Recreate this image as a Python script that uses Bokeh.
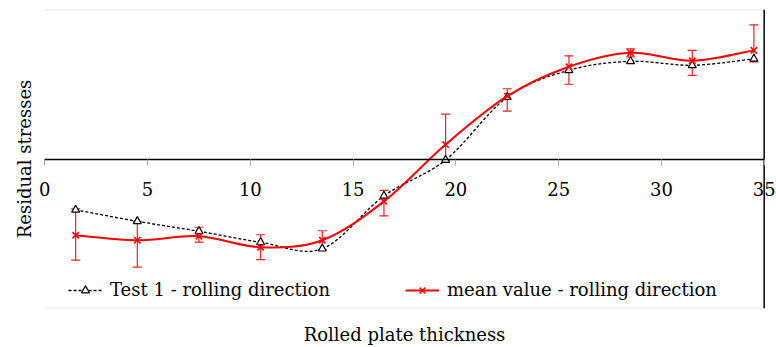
from bokeh.plotting import figure
from bokeh.models import (Range1d, LinearAxis, FixedTicker, Whisker, TeeHead,
                          ColumnDataSource, Legend, LegendItem)
from bokeh.embed import file_html
from bokeh.resources import INLINE

# ---- data ----
thickness = [1.5, 4.5, 7.5, 10.5, 13.5, 16.5, 19.5, 22.5, 25.5, 28.5, 31.5, 34.5]
test1 = [-102, -125, -145, -167, -180, -74, -2, 124, 178, 196, 188, 201]
mean_val = [-153, -163, -155, -177, -163, -85, 29, 126, 185, 213, 197, 218]
err_upper = [-100, -125, -137, -152, -144, -63, 90, 141, 207, 221, 218, 269]
err_lower = [-203, -217, -167, -202, -182, -114, -2, 96, 150, 205, 168, 195]
x_ticks = [0, 5, 10, 15, 20, 25, 30, 35]
x_limits = [0, 35]
y_limits = [-300, 300]
series_names = ["Test 1 - rolling direction", "mean value - rolling direction"]
x_title = "Rolled plate thickness"
y_title = "Residual stresses"

FONT = "DejaVu Serif"
PAD = 0.6  # extra room on each side so the end tick labels are not clipped


def smooth_segments(xs, ys, t=1.0 / 6.0):
    """Cubic Bezier segments (Catmull-Rom style) through the data points."""
    n = len(xs)
    seg = dict(x0=[], y0=[], x1=[], y1=[], cx0=[], cy0=[], cx1=[], cy1=[])
    for i in range(n - 1):
        xp, yp = (xs[i - 1], ys[i - 1]) if i > 0 else (xs[i], ys[i])
        xn, yn = (xs[i + 2], ys[i + 2]) if i + 2 < n else (xs[i + 1], ys[i + 1])
        seg["x0"].append(xs[i]); seg["y0"].append(ys[i])
        seg["x1"].append(xs[i + 1]); seg["y1"].append(ys[i + 1])
        seg["cx0"].append(xs[i] + (xs[i + 1] - xp) * t)
        seg["cy0"].append(ys[i] + (ys[i + 1] - yp) * t)
        seg["cx1"].append(xs[i + 1] - (xn - xs[i]) * t)
        seg["cy1"].append(ys[i + 1] - (yn - ys[i]) * t)
    return ColumnDataSource(seg)


p = figure(width=776, height=347, output_backend="svg", toolbar_location=None,
           x_range=Range1d(x_limits[0] - PAD, x_limits[1] + PAD),
           y_range=Range1d(*y_limits),
           min_border_left=32, min_border_right=0, min_border_top=9,
           min_border_bottom=38)
p.background_fill_color = "white"
p.border_fill_color = "white"
p.outline_line_color = None

# label-only default axes
for ax in (p.xaxis[0], p.yaxis[0]):
    ax.ticker = FixedTicker(ticks=[])
    ax.axis_line_color = None
    ax.major_tick_out = 0
    ax.major_tick_in = 0
    ax.minor_tick_out = 0
    ax.minor_tick_in = 0
    ax.major_label_text_font_size = "0px"
    ax.axis_label_text_font = FONT
    ax.axis_label_text_font_size = "18px"
    ax.axis_label_text_font_style = "normal"
    ax.axis_label_text_color = "black"
p.xaxis[0].axis_label = x_title
p.xaxis[0].axis_label_standoff = 15
p.yaxis[0].axis_label = y_title
p.yaxis[0].axis_label_standoff = -2

p.xgrid.visible = False
p.ygrid.visible = False

# light border lines at top and bottom of the plot area
p.segment(x0=x_limits[0], x1=x_limits[1], y0=y_limits, y1=y_limits,
          line_color="#e2e2e2", line_width=1.5)

# vertical axis line at the right edge
p.segment(x0=x_limits[1], x1=x_limits[1], y0=y_limits[0], y1=y_limits[1],
          line_color="black", line_width=1.5)

# horizontal axis crossing at zero
xa = LinearAxis(fixed_location=0, ticker=FixedTicker(ticks=x_ticks),
                bounds=tuple(x_limits))
xa.axis_line_color = "black"
xa.axis_line_width = 1.5
xa.major_tick_out = 6
xa.major_tick_in = 0
xa.major_tick_line_color = "#a6a6a6"
xa.minor_tick_out = 0
xa.minor_tick_in = 0
xa.major_label_standoff = 17
xa.major_label_text_font = FONT
xa.major_label_text_font_size = "18px"
xa.major_label_text_color = "black"
p.add_layout(xa, "below")

# error bars
err_src = ColumnDataSource(dict(x=thickness, hi=err_upper, lo=err_lower))
wh = Whisker(base="x", upper="hi", lower="lo", source=err_src,
             line_color="#ff2020", line_width=1.2,
             upper_head=TeeHead(size=9, line_color="#ff2020", line_width=1.2),
             lower_head=TeeHead(size=9, line_color="#ff2020", line_width=1.2))
p.add_layout(wh)

# Test 1 smoothed dashed line + triangles
p.bezier(x0="x0", y0="y0", x1="x1", y1="y1", cx0="cx0", cy0="cy0",
         cx1="cx1", cy1="cy1", source=smooth_segments(thickness, test1),
         line_color="black", line_width=1.3, line_dash="3 2")
l1 = p.line(x=thickness[:1], y=test1[:1], line_color="black",
            line_width=1.3, line_dash="3 2")
s1 = p.scatter(x=thickness, y=test1, marker="triangle", size=8,
               line_color="black", line_width=1.2, fill_color="white")

# mean value smoothed red line + x markers
p.bezier(x0="x0", y0="y0", x1="x1", y1="y1", cx0="cx0", cy0="cy0",
         cx1="cx1", cy1="cy1", source=smooth_segments(thickness, mean_val),
         line_color="#ff0000", line_width=2)
l2 = p.line(x=thickness[:1], y=mean_val[:1], line_color="#ff0000", line_width=2)
s2 = p.scatter(x=thickness, y=mean_val, marker="x", size=9,
               line_color="#ff0000", line_width=1.6)

legend = Legend(items=[LegendItem(label=series_names[0], renderers=[l1, s1]),
                       LegendItem(label=series_names[1], renderers=[l2, s2])],
                orientation="horizontal", location=(36, 8), spacing=75,
                glyph_width=34, glyph_height=20, label_standoff=8,
                padding=0, margin=0, border_line_color=None,
                background_fill_alpha=0,
                label_text_font=FONT, label_text_font_size="18px",
                label_text_color="black")
p.add_layout(legend)

open("out.html", "w").write(file_html(p, INLINE))
